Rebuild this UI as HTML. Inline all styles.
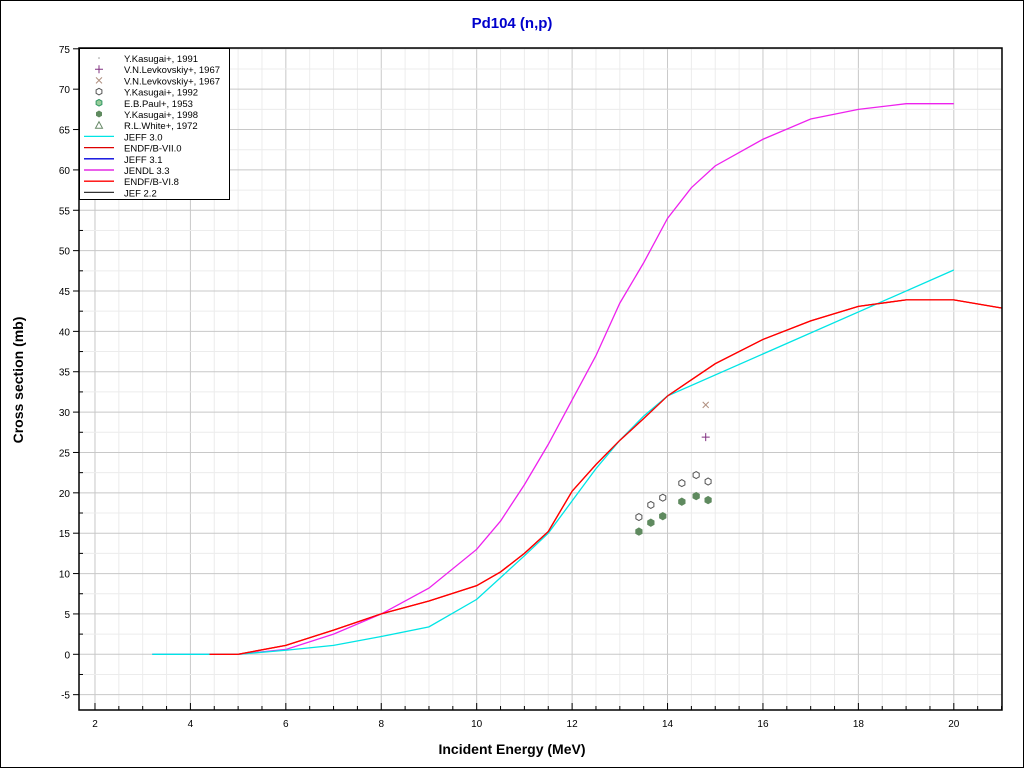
<!DOCTYPE html>
<html><head><meta charset="utf-8"><style>
html,body{margin:0;padding:0;background:#fff}
svg{display:block;font-family:"Liberation Sans",sans-serif}
</style></head><body>
<svg id="c" width="1024" height="768" viewBox="0 0 1024 768">
<rect x="0.5" y="0.5" width="1023" height="767" fill="#fff" stroke="#000"/>
<text x="512" y="28" text-anchor="middle" font-size="15" font-weight="bold" fill="#0000cc">Pd104 (n,p)</text>
<g id="grid"></g>
<g id="series"></g>
<rect x="79" y="48" width="923" height="662" fill="none" stroke="#000" stroke-width="1.5"/>
<g id="ticks"></g>
<text x="512" y="754" text-anchor="middle" font-size="14" font-weight="bold">Incident Energy (MeV)</text>
<text transform="translate(23,380) rotate(-90)" text-anchor="middle" font-size="14" font-weight="bold">Cross section (mb)</text>
<g id="legend"></g>
</svg>
<script>
const xTicks=[2,4,6,8,10,12,14,16,18,20];
const yTicks=[-5,0,5,10,15,20,25,30,35,40,45,50,55,60,65,70,75];
const jendlE=[3.2,5,6,7,8,9,10,10.5,11,11.5,12,12.5,13,13.5,14,14.5,15,16,17,18,19,20];
const jendlS=[0,0,0.6,2.5,5,8.2,13,16.5,21,26,31.5,37,43.5,48.5,54,57.8,60.5,63.8,66.3,67.5,68.2,68.2];
const jeff30E=[3.2,5,6,7,8,9,10,10.5,11,11.5,12,12.5,13,13.5,14,20];
const jeff30S=[0,0,0.5,1.1,2.2,3.4,6.8,9.5,12.2,15,19,23,26.5,29.5,32,47.6];
const endfE=[4.4,5,6,7,8,9,10,10.5,11,11.5,12,12.5,13,13.5,14,14.5,15,16,17,18,19,20,21];
const endfS=[0,0,1.1,3,5,6.6,8.5,10.2,12.5,15.2,20.2,23.5,26.5,29.2,32,34,36,39,41.3,43.1,43.9,43.9,42.9];
const kas92E=[13.4,13.65,13.9,14.3,14.6,14.85];
const kas92S=[17,18.5,19.4,21.2,22.2,21.4];
const kas98E=[13.4,13.65,13.9,14.3,14.6,14.85];
const kas98S=[15.2,16.3,17.1,18.9,19.6,19.1];
const levPlusE=[14.8], levPlusS=[26.9];
const levXE=[14.8], levXS=[30.9];

const X0=79,X1=1002,Y0=48,Y1=710;
const xmin=1.665,xmax=21.01,ymin=-6.9,ymax=75.1;
const sx=v=>X0+(v-xmin)/(xmax-xmin)*(X1-X0);
const sy=v=>Y1-(v-ymin)/(ymax-ymin)*(Y1-Y0);
const NS="http://www.w3.org/2000/svg";
function mk(tag,parent,attrs){const e=document.createElementNS(NS,tag);for(const k in attrs)e.setAttribute(k,attrs[k]);parent.appendChild(e);return e;}
const grid=document.getElementById('grid'),ticks=document.getElementById('ticks'),ser=document.getElementById('series'),leg=document.getElementById('legend');

for(let v=2;v<=21;v+=0.5){const major=(v%2===0);const x=sx(v);
 const l=mk('line',grid,{x1:x,x2:x,y1:Y0,y2:Y1,stroke:major?'#c8c8c8':'#ececec','stroke-width':1});
 
 const t=mk('line',ticks,{x1:x,x2:x,y1:Y1,y2:Y1-(major?7:4),stroke:'#000'});
 }
for(let v=-5;v<=75;v+=2.5){const major=(v%5===0);const y=sy(v);
 const l=mk('line',grid,{x1:X0,x2:X1,y1:y,y2:y,stroke:major?'#c8c8c8':'#ececec','stroke-width':1});
 
 const t=mk('line',ticks,{x1:X0-(major?6:0),x2:X0+(major?0:4),y1:y,y2:y,stroke:'#000'});
 }
xTicks.forEach(v=>{const t=mk('text',ticks,{x:sx(v),y:Y1+17,'text-anchor':'middle','font-size':10});t.textContent=v;
 });
yTicks.forEach(v=>{const t=mk('text',ticks,{x:X0-9,y:sy(v)+4,'text-anchor':'end','font-size':10});t.textContent=v;
 });

function line(E,S,color,name){const p=mk('polyline',ser,{points:E.map((e,i)=>sx(e)+','+sy(S[i])).join(' '),fill:'none',stroke:color,'stroke-width':1.3});
 }
line(endfE,endfS,'#ff0000','endf-b-vii-0-line');
line(jendlE,jendlS,'#ee22ee','jendl-3-3-line');
line(jeff30E,jeff30S,'#00e5e5','jeff-3-0-line');
line(endfE,endfS,'#ff0000','endf-b-vi-8-line');

function hexPath(cx,cy,r){let d='';for(let i=0;i<6;i++){const a=Math.PI/3*i+Math.PI/6;d+=(i?'L':'M')+(cx+r*Math.cos(a)).toFixed(1)+','+(cy+r*Math.sin(a)).toFixed(1);}return d+'Z';}
kas92E.forEach((e,i)=>{const p=mk('path',ser,{d:hexPath(sx(e),sy(kas92S[i]),3.5),fill:'#fff',stroke:'#555','stroke-width':1});
 });
kas98E.forEach((e,i)=>{const p=mk('path',ser,{d:hexPath(sx(e),sy(kas98S[i]),3.6),fill:'#5f8a5f',stroke:'#5f8a5f'});
 });
levPlusE.forEach((e,i)=>{const x=sx(e),y=sy(levPlusS[i]);const p=mk('path',ser,{d:`M${x-4},${y}H${x+4}M${x},${y-4}V${y+4}`,stroke:'#803080','stroke-width':1});
 });
levXE.forEach((e,i)=>{const x=sx(e),y=sy(levXS[i]);const p=mk('path',ser,{d:`M${x-3},${y-3}L${x+3},${y+3}M${x-3},${y+3}L${x+3},${y-3}`,stroke:'#b09080','stroke-width':1});
 });

const lb=mk('rect',leg,{x:79.5,y:48.5,width:150,height:151,fill:'#fff',stroke:'#000'});

const entries=[['Y.Kasugai+, 1991','dot'],['V.N.Levkovskiy+, 1967','plus'],['V.N.Levkovskiy+, 1967','x'],['Y.Kasugai+, 1992','hex'],['E.B.Paul+, 1953','hexg'],['Y.Kasugai+, 1998','fhex'],['R.L.White+, 1972','tri'],
['JEFF 3.0','#00e5e5'],['ENDF/B-VII.0','#dd0000'],['JEFF 3.1','#0000dd'],['JENDL 3.3','#dd00dd'],['ENDF/B-VI.8','#ff0000'],['JEF 2.2','#333333']];
entries.forEach((en,i)=>{const y=58+i*11.2;const g=mk('g',leg,{});
 
 const t=mk('text',g,{x:124,y:y+4,'font-size':9.5});t.textContent=en[0];
 const k=en[1],cx=99;
 if(k[0]==='#')mk('line',g,{x1:84,x2:114,y1:y,y2:y,stroke:k,'stroke-width':1.3});
 else if(k==='dot')mk('circle',g,{cx,cy:y,r:0.8,fill:'#999'});
 else if(k==='plus')mk('path',g,{d:`M${cx-4},${y}H${cx+4}M${cx},${y-4}V${y+4}`,stroke:'#803080'});
 else if(k==='x')mk('path',g,{d:`M${cx-3},${y-3}L${cx+3},${y+3}M${cx-3},${y+3}L${cx+3},${y-3}`,stroke:'#b09080'});
 else if(k==='hex')mk('path',g,{d:hexPath(cx,y,3.3),fill:'#fff',stroke:'#555'});
 else if(k==='hexg')mk('path',g,{d:hexPath(cx,y,3.3),fill:'#9c9',stroke:'#396'});
 else if(k==='fhex')mk('path',g,{d:hexPath(cx,y,3.5),fill:'#5f8a5f'});
 else if(k==='tri')mk('path',g,{d:`M${cx},${y-3.5}L${cx+3.5},${y+3}L${cx-3.5},${y+3}Z`,fill:'none',stroke:'#686'});
});
</script>
</body></html>
